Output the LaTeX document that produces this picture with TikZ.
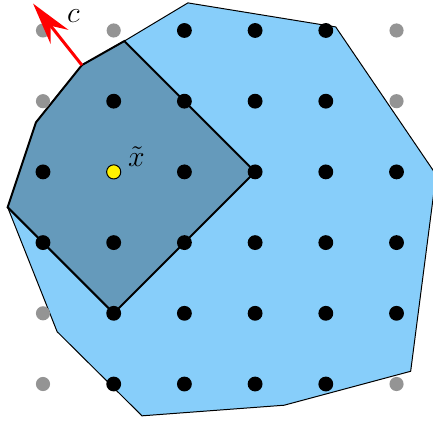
\documentclass[tikz,border=0pt]{standalone}
\usepackage{amsmath,amssymb}
\usepackage{tikz}
\usetikzlibrary{arrows.meta}
\definecolor{hullblue}{RGB}{135,206,250}

\begin{document}
\begin{tikzpicture}[every node/.style={font=\large}, >={Stealth[length=6mm,width=3.2mm,inset=2mm]},
	pt/.style={fill=black}, outpt/.style={fill=black!42}]
	\useasboundingbox (-0.608,-0.509) rectangle (5.516,5.431);
	% relaxation region
	\filldraw[fill=hullblue, draw=black, thin] (2.05,5.39) -- (4.14,5.05) -- (5.56,2.96) -- (5.2,0.18) -- (3.41,-0.3) -- (1.4,-0.45) -- (0.2,0.74) -- (-0.5,2.5) -- (-0.1,3.7) -- (0.55,4.51) -- (1.15,4.85) -- cycle;
	% feasible part
	\coordinate (v) at (0.55,4.51);
	\filldraw[fill=hullblue!75!black, draw=black, thick] (1.15,4.85) -- (3,3) -- (1,1) -- (-0.5,2.5) -- (-0.1,3.7) -- (v) -- cycle;
	% lattice points
	\foreach \p in {(0,5),(1,5),(5,5),(0,4),(5,4),(0,1),(0,0),(5,0)}
		\fill[outpt] \p circle (0.1);
	\foreach \p in {(2,5),(3,5),(4,5),(1,4),(2,4),(3,4),(4,4),(0,3),(2,3),(3,3),(4,3),(5,3),
		(0,2),(1,2),(2,2),(3,2),(4,2),(5,2),(1,1),(2,1),(3,1),(4,1),(5,1),(1,0),(2,0),(3,0),(4,0)}
		\fill[pt] \p circle (0.105);
	\filldraw[fill=yellow, draw=black, thin] (1,3) circle (0.1);
	\node (xt) at (1.32,3.22) {$\tilde{x}$};
	% objective direction
	\coordinate (ctip) at (-0.14,5.38);
	\draw[->, very thick, red] (v) -- (ctip);
	\node (c) at (0.43,5.2) {$c$};
\end{tikzpicture}
\end{document}
